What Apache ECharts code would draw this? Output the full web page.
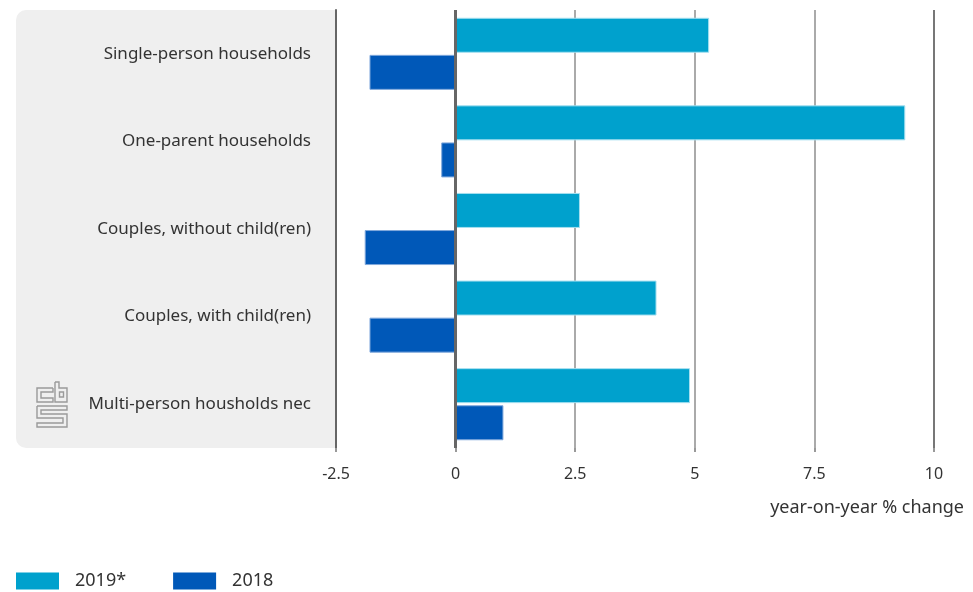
<!DOCTYPE html>
<html><head><meta charset="utf-8">
<script src="https://cdn.jsdelivr.net/npm/echarts@6/dist/echarts.min.js"></script>
<style>html,body{margin:0;padding:0;background:#fff}#c{width:973px;height:592px}</style>
</head><body><div id="c"></div>
<script>
const categories = ['Single-person households','One-parent households','Couples, without child(ren)','Couples, with child(ren)','Multi-person housholds nec'];
const values2019 = [5.3, 9.4, 2.6, 4.2, 4.9];
const values2018 = [-1.8, -0.3, -1.9, -1.8, 1.0];
const seriesNames = ['2019*', '2018'];
const axisTitle = 'year-on-year % change';
const FONT = 'Noto Sans';

const chart = echarts.init(document.getElementById('c'), null, {renderer:'canvas'});
const logoStyle = {stroke:'#9a9a9a', fill:null, lineWidth:1.4};
chart.setOption({
  animation:false,
  textStyle:{fontFamily:FONT},
  grid:{left:336, right:39, top:10, bottom:144, containLabel:false},
  graphic:[
    {type:'rect', z:-10, shape:{x:16,y:10,width:320,height:438,r:[10,0,0,10]}, style:{fill:'#efefef'}},
    {type:'polyline', z:1, shape:{points:[[53,388],[37,388],[37,402],[53,402],[53,398],[41,398],[41,392],[53,392],[53,388]]}, style:logoStyle},
    {type:'polyline', z:1, shape:{points:[[55,382],[59,382],[59,388],[67,388],[67,402],[55,402],[55,382]]}, style:logoStyle},
    {type:'rect', z:1, shape:{x:59.5,y:392,width:4,height:5}, style:logoStyle},
    {type:'polyline', z:1, shape:{points:[[37,406],[67,406],[67,410],[41,410],[41,414],[67,414],[67,427],[37,427],[37,423],[63,423],[63,418],[37,418],[37,406]]}, style:logoStyle}
  ],
  legend:{
    left:16, top:572, padding:0, itemWidth:43, itemHeight:17, itemGap:47, icon:'rect',
    data:seriesNames,
    itemStyle:{borderWidth:0},
    textStyle:{fontSize:18, color:'#333', fontFamily:FONT, padding:[0,0,0,11]}
  },
  xAxis:{
    type:'value', min:-2.5, max:10, interval:2.5,
    name:axisTitle, nameLocation:'end', nameGap:30,
    nameTextStyle:{fontSize:18, color:'#333', align:'right', verticalAlign:'top', padding:[51,0,0,0]},
    axisLine:{show:false},
    axisTick:{show:true, length:4, lineStyle:{color:'#999', width:2}},
    axisLabel:{fontSize:16, color:'#333', margin:18},
    splitLine:{show:true, lineStyle:{color:['#666','#aaa','#aaa','#aaa','#aaa','#777'], width:2}}
  },
  yAxis:{
    type:'category', data:categories, inverse:true,
    axisLine:{show:true, onZero:false, lineStyle:{color:'#666', width:2}},
    axisTick:{show:false},
    axisLabel:{fontSize:17, color:'#333', margin:25}
  },
  series:[
    {name:seriesNames[0], type:'bar', data:values2019, barWidth:35, barGap:'6%',
     itemStyle:{color:'#00a1cd', borderColor:'#a6e0f0', borderWidth:1},
     markLine:{silent:true, symbol:['none','none'], label:{show:false},
       lineStyle:{color:'#666', width:3, type:'solid'}, data:[{xAxis:0}], z:5}},
    {name:seriesNames[1], type:'bar', data:values2018, barWidth:35, barGap:'6%',
     itemStyle:{color:'#0058b8', borderColor:'#7fa8dc', borderWidth:1}}
  ]
});
</script></body></html>
